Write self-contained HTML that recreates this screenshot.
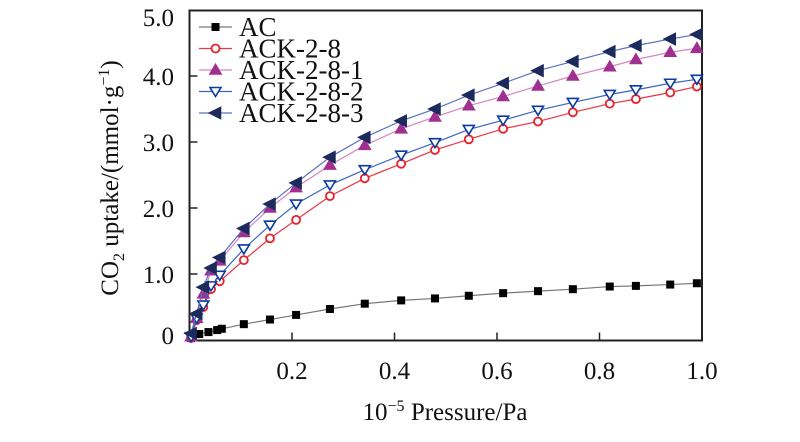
<!DOCTYPE html>
<html><head><meta charset="utf-8"><style>
html,body{margin:0;padding:0;background:#fff;width:800px;height:442px;overflow:hidden}
svg text{font-family:"Liberation Serif",serif;fill:#111}
</style></head><body>
<svg id="chart" width="800" height="442" viewBox="0 0 800 442">
<g id="axes"></g><g id="series"></g><g id="legend"></g>
</svg>
<script>
const ackPressure=[0.003,0.014,0.027,0.042,0.059,0.106,0.157,0.208,0.274,0.342,0.413,0.479,0.545,0.612,0.680,0.748,0.820,0.871,0.938,0.99];
const acPressure=[0.003,0.019,0.037,0.054,0.063,0.106,0.157,0.208,0.274,0.342,0.413,0.479,0.545,0.612,0.680,0.748,0.820,0.871,0.938,0.99];
const acValues=[0.03,0.09,0.12,0.15,0.17,0.24,0.31,0.38,0.47,0.55,0.60,0.63,0.67,0.71,0.74,0.77,0.81,0.82,0.84,0.86];
const ack28Values=[0.03,0.30,0.50,0.77,0.89,1.21,1.54,1.82,2.18,2.45,2.67,2.88,3.04,3.20,3.31,3.45,3.58,3.65,3.75,3.84];
const ack281Values=[0.05,0.33,0.70,1.05,1.20,1.63,2.00,2.31,2.65,2.95,3.20,3.38,3.55,3.69,3.85,4.00,4.14,4.25,4.36,4.42];
const ack282Values=[0.05,0.33,0.53,0.82,0.98,1.38,1.74,2.06,2.35,2.58,2.80,2.99,3.19,3.33,3.48,3.60,3.72,3.79,3.89,3.95];
const ack283Values=[0.10,0.40,0.80,1.09,1.25,1.69,2.06,2.38,2.77,3.07,3.32,3.50,3.71,3.89,4.08,4.22,4.37,4.46,4.56,4.63];
const xTicks=[0.2,0.4,0.6,0.8,1.0];
const xTickLabels=["0.2","0.4","0.6","0.8","1.0"];
const yTicks=[0,1,2,3,4,5];
const yTickLabels=["0","1.0","2.0","3.0","4.0","5.0"];
const seriesNames=["AC","ACK-2-8","ACK-2-8-1","ACK-2-8-2","ACK-2-8-3"];

const L=189.5,R=702,T=10.5,B=340.5;
const X=p=>L+(R-L)*p;
const Y=v=>340-66*v;
const NS="http://www.w3.org/2000/svg";
function mk(tag,attrs,parent){const e=document.createElementNS(NS,tag);for(const k in attrs)e.setAttribute(k,attrs[k]);parent.appendChild(e);return e;}
const axes=document.getElementById('axes'),ser=document.getElementById('series'),leg=document.getElementById('legend');

let fr=mk('rect',{x:L,y:T,width:R-L,height:B-T,fill:'none',stroke:'#222','stroke-width':2},axes);


xTicks.forEach((t,i)=>{
 let l=mk('line',{x1:X(t),x2:X(t),y1:B,y2:B-8,stroke:'#222','stroke-width':1.5},axes);
 
 
 let tx=mk('text',{x:X(t),y:379,'text-anchor':'middle','font-size':25},axes);tx.textContent=xTickLabels[i];
 
 
});
yTicks.forEach((t,i)=>{
 if(t>0&&t<5){let l=mk('line',{x1:L,x2:L+8,y1:Y(t),y2:Y(t),stroke:'#222','stroke-width':1.5},axes);
 
 }
 let ty=t===5?Y(t)+16:(t===0?Y(t)+4:Y(t)+9);
 let tx=mk('text',{x:174,y:ty,'text-anchor':'end','font-size':25},axes);tx.textContent=yTickLabels[i];
 
 
});
let xt=mk('text',{x:445,y:420,'text-anchor':'middle','font-size':25},axes);
xt.innerHTML='10<tspan dy="-9" font-size="16">−5</tspan><tspan dy="9"> Pressure/Pa</tspan>';


let yt=mk('text',{x:0,y:0,'text-anchor':'middle','font-size':25,transform:'translate(118,178) rotate(-90)'},axes);
yt.innerHTML='CO<tspan dy="6" font-size="16">2</tspan><tspan dy="-6"> uptake/(mmol·g</tspan><tspan dy="-9" font-size="16">−1</tspan><tspan dy="9">)</tspan>';



const styles=[
 {line:'#777',col:'#000',m:'square',fill:'#000'},
 {line:'#ee3344',col:'#e8202a',m:'circle',fill:'#fff'},
 {line:'#d585c0',col:'#a03090',m:'up',fill:'#a03090'},
 {line:'#3a66c0',col:'#0a3aa0',m:'down',fill:'#fff'},
 {line:'#5a70c0',col:'#1c2a5c',m:'left',fill:'#1c2a5c'}];
function marker(g,m,cx,cy,s){
 if(m==='square')return mk('rect',{x:cx-4,y:cy-4,width:8,height:8,fill:s.fill},g);
 if(m==='circle')return mk('circle',{cx,cy,r:4,fill:s.fill,stroke:s.col,'stroke-width':1.8},g);
 let pts;
 if(m==='up')pts=[[cx,cy-5.5],[cx-5.5,cy+4],[cx+5.5,cy+4]];
 if(m==='down')pts=[[cx,cy+5],[cx-5.5,cy-4],[cx+5.5,cy-4]];
 if(m==='left')pts=[[cx-6,cy],[cx+5,cy-5.5],[cx+5,cy+5.5]];
 return mk('polygon',{points:pts.map(p=>p.join(',')).join(' '),fill:s.fill,stroke:s.col,'stroke-width':1.6},g);
}
const allX=[acPressure,ackPressure,ackPressure,ackPressure,ackPressure];
const allV=[acValues,ack28Values,ack281Values,ack282Values,ack283Values];
allV.forEach((vals,si)=>{
 const s=styles[si];
 const g=mk('g',{},ser);
 
 
 const pl=mk('polyline',{points:vals.map((v,i)=>X(allX[si][i])+','+Y(v)).join(' '),fill:'none',stroke:s.line,'stroke-width':1.2},g);
 
 
 vals.forEach((v,i)=>{const e=marker(g,s.m,X(allX[si][i]),Y(v),s);
  
  });
});
seriesNames.forEach((n,i)=>{
 const s=styles[i],y=27+21.5*i;
 const g=mk('g',{},leg);
 
 
 mk('line',{x1:199,x2:232,y1:y,y2:y,stroke:s.line,'stroke-width':1.2},g);
 marker(g,s.m,215.5,y,s);
 const t=mk('text',{x:239,y:y+9,'font-size':27},g);t.textContent=n;
});
</script>
</body></html>
